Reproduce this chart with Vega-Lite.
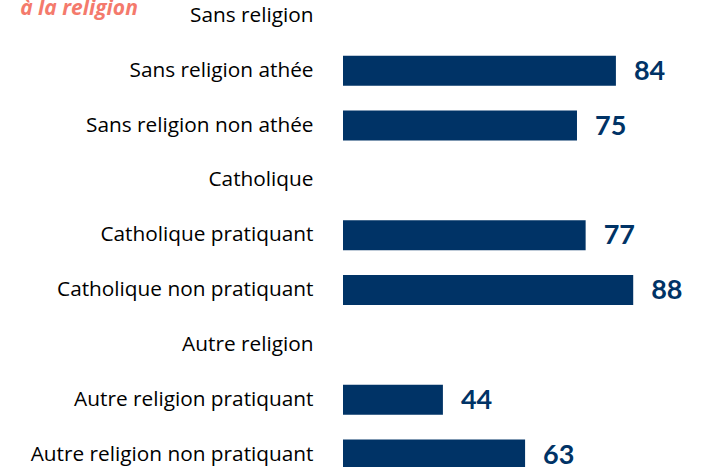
{
  "$schema": "https://vega.github.io/schema/vega-lite/v6.json",
  "autosize": "none",
  "width": 364,
  "height": 467,
  "padding": {"left": 343, "top": 0, "right": 0, "bottom": 0},
  "background": "white",
  "title": {
    "text": "à la religion",
    "anchor": "start",
    "frame": "bounds",
    "font": "Open Sans",
    "fontSize": 21,
    "fontStyle": "italic",
    "fontWeight": "bold",
    "color": "#F47A6C",
    "dx": -10,
    "dy": 19,
    "offset": 0
  },
  "config": {"view": {"stroke": null}},
  "data": {
    "values": [
      {"label": "Sans religion", "value": null},
      {"label": "Sans religion athée", "value": 84},
      {"label": "Sans religion non athée", "value": 75},
      {"label": "Catholique", "value": null},
      {"label": "Catholique pratiquant", "value": 77},
      {"label": "Catholique non pratiquant", "value": 88},
      {"label": "Autre religion", "value": null},
      {"label": "Autre religion pratiquant", "value": 44},
      {"label": "Autre religion non pratiquant", "value": 63}
    ]
  },
  "encoding": {
    "y": {
      "field": "label",
      "type": "nominal",
      "sort": null,
      "scale": {
        "domain": ["Sans religion", "Sans religion athée", "Sans religion non athée", "Catholique", "Catholique pratiquant", "Catholique non pratiquant", "Autre religion", "Autre religion pratiquant", "Autre religion non pratiquant"],
        "range": [-11.5, 482],
        "paddingInner": 0,
        "paddingOuter": 0
      },
      "axis": {
        "title": null,
        "domain": false,
        "ticks": false,
        "labelPadding": 30,
        "labelFont": "Open Sans",
        "labelFontSize": 20.8,
        "labelColor": "#000000",
        "labelLimit": 0
      }
    }
  },
  "layer": [
    {
      "mark": {"type": "bar", "size": 30, "color": "#003366"},
      "encoding": {
        "x": {"field": "value", "type": "quantitative", "scale": {"domain": [20.9, 105.06], "zero": false, "nice": false}, "axis": null},
        "x2": {"datum": 20.9}
      }
    },
    {
      "mark": {"type": "text", "align": "left", "baseline": "middle", "dx": 18, "dy": 1, "font": "Lato", "fontSize": 27, "fontWeight": "bold", "color": "#003366"},
      "encoding": {
        "x": {"field": "value", "type": "quantitative"},
        "text": {"field": "value", "type": "quantitative"}
      }
    }
  ]
}
